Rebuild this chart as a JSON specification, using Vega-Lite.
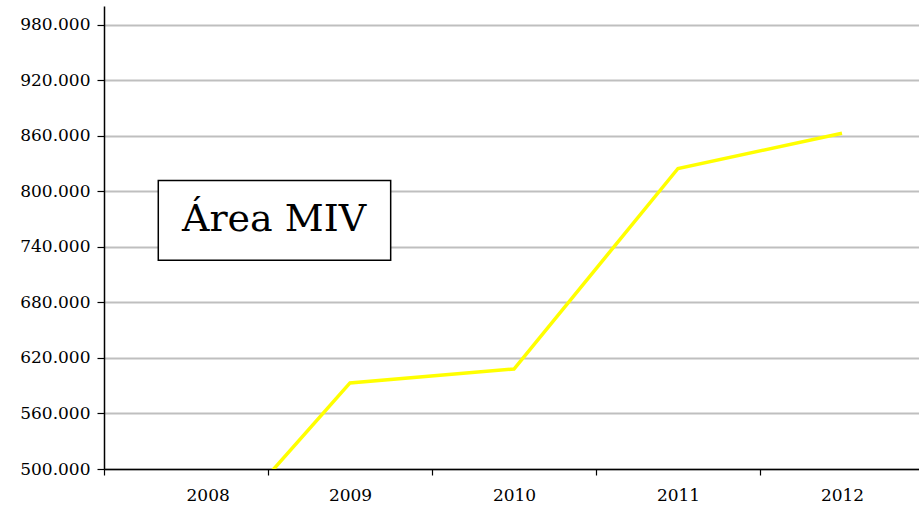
{
  "$schema": "https://vega.github.io/schema/vega-lite/v6.json",
  "width": 820,
  "height": 463,
  "autosize": {"type": "none"},
  "padding": {"left": 104, "top": 6, "right": 0, "bottom": 40},
  "background": "white",
  "config": {"view": {"stroke": null}},
  "layer": [
    {
      "data": {"values": [
        {"year": 2008, "value": 393000},
        {"year": 2009, "value": 593000},
        {"year": 2010, "value": 608000},
        {"year": 2011, "value": 824500},
        {"year": 2012, "value": 862500}
      ]},
      "mark": {"type": "line", "color": "#ffff00", "strokeWidth": 3.5, "clip": true},
      "encoding": {
        "x": {
          "field": "year", "type": "quantitative",
          "scale": {"domain": [2007.5, 2012.5], "nice": false, "zero": false},
          "axis": {
            "title": null, "grid": false,
            "values": [2007.5, 2008.5, 2009.5, 2010.5, 2011.5, 2012.5],
            "labelExpr": "datum.value < 2012 ? format(datum.value + 0.5, 'd') : ''",
            "labelOffset": 82,
            "labelFont": "DejaVu Serif", "labelFontSize": 17, "labelColor": "#000",
            "labelPadding": 12,
            "tickColor": "#000", "tickSize": 6, "tickWidth": 1.2,
            "domainColor": "#000", "domainWidth": 1.5
          }
        },
        "y": {
          "field": "value", "type": "quantitative",
          "scale": {"domain": [500000, 1000000], "nice": false, "zero": false},
          "axis": {
            "title": null,
            "values": [500000, 560000, 620000, 680000, 740000, 800000, 860000, 920000, 980000],
            "labelExpr": "replace(format(datum.value, ','), ',', '.')",
            "labelFont": "DejaVu Serif", "labelFontSize": 17, "labelColor": "#000",
            "labelPadding": 7,
            "tickColor": "#000", "tickSize": 7, "tickWidth": 1.2,
            "domainColor": "#000", "domainWidth": 1.5,
            "gridColor": "#bfbfbf", "gridWidth": 2
          }
        }
      }
    },
    {
      "data": {"values": [{"x1": 2007.831, "x2": 2009.248, "y1": 725500, "y2": 811500}]},
      "mark": {"type": "rect", "fill": "white", "stroke": "#000", "strokeWidth": 1.5},
      "encoding": {
        "x": {"field": "x1", "type": "quantitative"},
        "x2": {"field": "x2"},
        "y": {"field": "y1", "type": "quantitative"},
        "y2": {"field": "y2"}
      }
    },
    {
      "data": {"values": [{"x": 2008.537, "y": 768500, "label": "Área MIV"}]},
      "mark": {"type": "text", "font": "DejaVu Serif", "fontSize": 38, "color": "#000", "align": "center", "baseline": "middle"},
      "encoding": {
        "x": {"field": "x", "type": "quantitative"},
        "y": {"field": "y", "type": "quantitative"},
        "text": {"field": "label"}
      }
    }
  ]
}
